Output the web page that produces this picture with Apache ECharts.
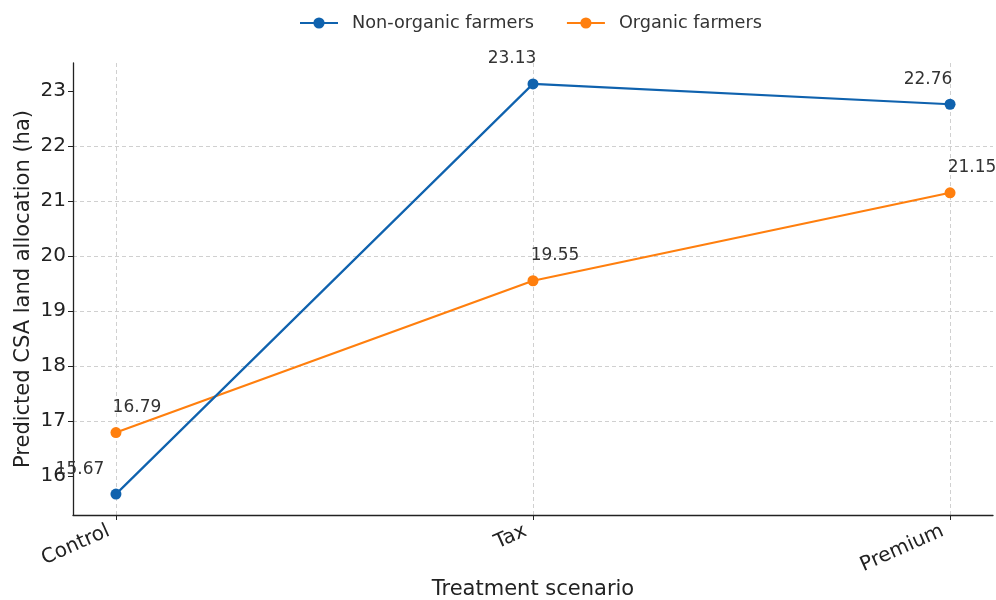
<!DOCTYPE html>
<html><head><meta charset="utf-8">
<script src="https://cdn.jsdelivr.net/npm/echarts@6/dist/echarts.min.js"></script>
<style>html,body{margin:0;padding:0;background:#fff}#c{width:996px;height:600px}</style>
</head><body><div id="c"></div>
<script>
const categories = ['Control', 'Tax', 'Premium'];
const nonOrganic = [15.67, 23.13, 22.76];
const organic = [16.79, 19.55, 21.15];
const yTicks = [16, 17, 18, 19, 20, 21, 22, 23];
const xTicks = [0, 1, 2];

const font = 'DejaVu Sans';
const blue = '#0f62ae', orange = '#ff7f0e';

function build(vals, offsets) {
  return vals.map((v, i) => ({
    value: [i, v],
    label: { offset: offsets[i] }
  }));
}

const chart = echarts.init(document.getElementById('c'));
chart.setOption({
  animation: false,
  textStyle: { fontFamily: font },
  legend: {
    top: 9, left: 294, itemGap: 32, itemWidth: 38, itemHeight: 14,
    textStyle: { fontSize: 17.7, color: '#333', fontFamily: font, padding: [0, 0, 0, 9] },
    data: ['Non-organic farmers', 'Organic farmers']
  },
  grid: { left: 73, right: 3, top: 63, bottom: 85, outerBoundsMode: 'none', containLabel: false },
  xAxis: {
    type: 'value', min: -0.103, max: 2.103,
    name: 'Treatment scenario', nameLocation: 'middle', nameGap: 64,
    nameMoveOverlap: false,
    nameTextStyle: { fontSize: 21, color: '#222', fontFamily: font },
    axisLine: { show: true, onZero: false, lineStyle: { color: '#222', width: 1.3 } },
    axisTick: { show: true, customValues: xTicks, length: 5, lineStyle: { color: '#222' } },
    axisLabel: {
      customValues: xTicks, rotate: 24, fontSize: 20, color: '#222', margin: 12,
      padding: [0, 8, 0, 0],
      formatter: v => categories[Math.round(v)]
    },
    splitLine: { show: true, customValues: xTicks, lineStyle: { type: [4, 3], color: '#d0d0d0' } }
  },
  yAxis: {
    type: 'value', min: 15.29, max: 23.51,
    name: 'Predicted CSA land allocation (ha)', nameLocation: 'middle', nameGap: 39,
    nameMoveOverlap: false,
    nameTextStyle: { fontSize: 21, color: '#222', fontFamily: font },
    axisLine: { show: true, onZero: false, lineStyle: { color: '#222', width: 1.3 } },
    axisTick: { show: true, customValues: yTicks, length: 5, lineStyle: { color: '#222' } },
    axisLabel: { customValues: yTicks, fontSize: 20, color: '#222', margin: 7 },
    splitLine: { show: true, customValues: yTicks, showMinLine: false, showMaxLine: false,
      lineStyle: { type: [4, 3], color: '#d0d0d0' } }
  },
  series: [
    {
      name: 'Non-organic farmers', type: 'line', color: blue,
      data: build(nonOrganic, [[-36, -6], [-21, -6], [-22, -6]]),
      symbol: 'circle', symbolSize: 11, lineStyle: { width: 2.2 },
      label: { show: true, position: 'top', fontSize: 17, color: '#333', fontFamily: font },
      z: 3
    },
    {
      name: 'Organic farmers', type: 'line', color: orange,
      data: build(organic, [[21, -6], [22, -6], [22, -6]]),
      symbol: 'circle', symbolSize: 11, lineStyle: { width: 2.2 },
      label: { show: true, position: 'top', fontSize: 17, color: '#333', fontFamily: font },
      z: 2
    }
  ]
});
</script></body></html>
